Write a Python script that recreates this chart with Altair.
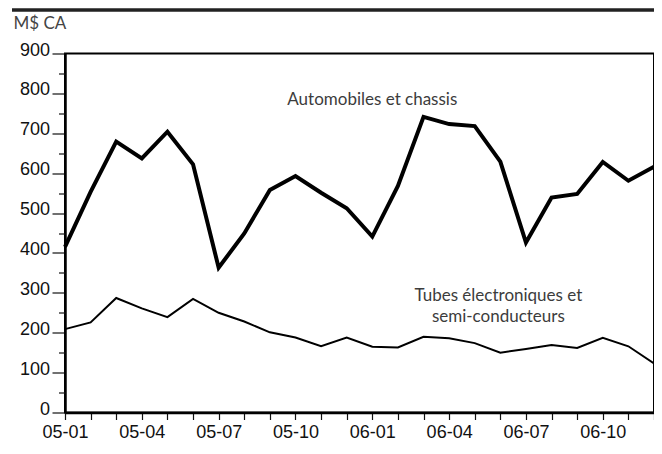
import altair as alt
import pandas as pd

months = ["05-01", "05-02", "05-03", "05-04", "05-05", "05-06", "05-07", "05-08",
          "05-09", "05-10", "05-11", "05-12", "06-01", "06-02", "06-03", "06-04",
          "06-05", "06-06", "06-07", "06-08", "06-09", "06-10", "06-11", "06-12"]
auto = [415, 553, 679, 637, 704, 622, 363, 449, 558, 593, 551, 512,
        441, 568, 741, 723, 718, 629, 426, 539, 548, 628, 581, 616]
tubes = [209, 226, 287, 261, 239, 285, 250, 228, 201, 188, 166, 188,
         165, 163, 190, 186, 174, 150, 159, 169, 162, 187, 166, 123]
major_ticks = [0, 100, 200, 300, 400, 500, 600, 700, 800, 900]
minor_ticks = [50, 150, 250, 350, 450, 550, 650, 750, 850]
shown_months = ["01", "04", "07", "10"]

auto_label = "Automobiles et chassis"
tubes_label = "Tubes électroniques et\nsemi-conducteurs"

df_auto = pd.DataFrame({"month": months, "value": auto})
df_tubes = pd.DataFrame({"month": months, "value": tubes})

PLOT_W = 589
PLOT_H = 359

yscale = alt.Scale(domain=[0, 900], nice=False, zero=True)
xscale = alt.Scale(type="point", padding=0, domain=months)

month_test = "indexof(" + str(shown_months) + ", slice(datum.value, 3)) >= 0"
xaxis = alt.Axis(
    title=None, labelAngle=0, tickSize=7, tickWidth=1.2, tickColor="#111",
    domainWidth=2.5, domainColor="#000", labelPadding=4,
    labelFont="Liberation Sans", labelFontSize=18, labelColor="#111",
    labelExpr=month_test + " ? datum.value : ''", labelOverlap=False,
)

major_axis = alt.Axis(
    values=major_ticks, orient="left", tickSize=13, tickWidth=1.2, tickColor="#111",
    domainWidth=2.5, domainColor="#000", labelPadding=2.5,
    labelFont="Liberation Sans", labelFontSize=18, labelColor="#111",
    labelBaseline="alphabetic", labelOffset=1.5, grid=False,
    title="M$ CA", titleAngle=0, titleAlign="left", titleBaseline="alphabetic",
    titleX=-52, titleY=-25.2, titleFont="Lato", titleFontSize=17,
    titleFontWeight="normal", titleColor="#444",
)
minor_axis = alt.Axis(
    values=minor_ticks, orient="left", tickSize=6.5, tickWidth=1.2, tickColor="#111",
    labels=False, domain=False, grid=False, title=None,
)

auto_line = alt.Chart(df_auto).mark_line(color="#000", strokeWidth=4, strokeJoin="miter").encode(
    x=alt.X("month:O", scale=xscale, axis=xaxis, sort=months),
    y=alt.Y("value:Q", scale=yscale, axis=major_axis),
)
tubes_line = alt.Chart(df_tubes).mark_line(color="#000", strokeWidth=2, strokeJoin="miter").encode(
    x=alt.X("month:O", scale=xscale, axis=xaxis, sort=months),
    y=alt.Y("value:Q", scale=yscale, axis=minor_axis),
)

auto_text = alt.Chart(df_auto).mark_text(
    text=auto_label, font="Lato", fontSize=17, color="#3c3c3c",
    align="center", baseline="alphabetic",
).encode(
    x=alt.XDatum("06-01", type="ordinal", scale=xscale, axis=xaxis),
    y=alt.YDatum(771, type="quantitative", scale=yscale, axis=None),
).transform_filter("datum.month == '05-01'")
tubes_text = alt.Chart(df_tubes).mark_text(
    text=tubes_label, lineBreak="\n", lineHeight=21, font="Lato", fontSize=17,
    color="#3c3c3c", align="center", baseline="alphabetic", dx=-2,
).encode(
    x=alt.XDatum("06-06", type="ordinal", scale=xscale, axis=xaxis),
    y=alt.YDatum(279, type="quantitative", scale=yscale, axis=None),
).transform_filter("datum.month == '05-01'")

top_bar = alt.Chart(df_auto).mark_rule(color="#222", strokeWidth=3.5).encode(
    x=alt.value(-53), x2=alt.value(PLOT_W), y=alt.value(-43.5)
).transform_filter("datum.month == '05-01'")

chart = alt.layer(auto_line, tubes_line, auto_text, tubes_text, top_bar).resolve_axis(
    y="independent"
).properties(
    width=PLOT_W, height=PLOT_H,
    autosize=alt.AutoSizeParams(type="none"),
    padding={"left": 57, "top": 45.5, "right": 0, "bottom": 33.5},
    background="white",
).configure_view(stroke="#000", strokeWidth=2)

chart.save("out.html", embed_options={"renderer": "svg", "actions": False})
